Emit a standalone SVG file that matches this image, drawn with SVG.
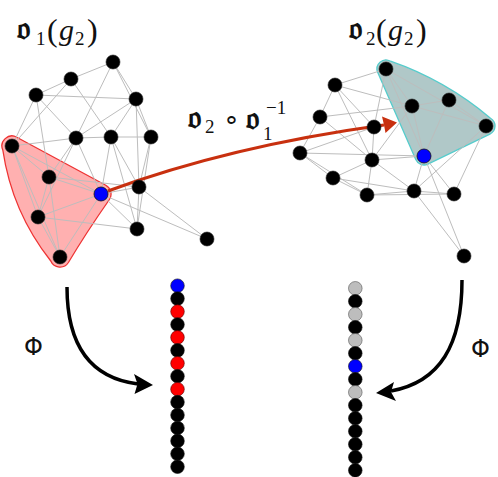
<svg xmlns="http://www.w3.org/2000/svg" width="498" height="477" viewBox="0 0 498 477">
<style>
.e{stroke:#bdbdbd;stroke-width:1;fill:none}
.n{fill:#000;stroke:#222;stroke-width:0.6}
.b{fill:#0000ff;stroke:#111;stroke-width:0.8}
.vk{fill:#000;stroke:#111;stroke-width:0.6}
.vr{fill:#ff0000;stroke:#550000;stroke-width:0.6}
.vg{fill:#bdbdbd;stroke:#555;stroke-width:0.6}
.vb{fill:#0000ff;stroke:#111;stroke-width:0.6}
.fr{font-family:"DejaVu Serif","Liberation Serif",serif;font-size:32px;font-weight:bold;fill:#111}
.m{font-family:"Liberation Serif",serif;fill:#111}
.s{font-family:"Liberation Serif",serif;font-size:19px;fill:#111}
.p{font-family:"Liberation Serif",serif;font-size:32px;fill:#111}
.g{font-family:"Liberation Serif",serif;font-size:30px;font-style:italic;fill:#111}
.phi{font-family:"DejaVu Sans","Liberation Sans",sans-serif;font-size:24px;fill:#111}
</style>
<rect width="498" height="477" fill="#fff"/>
<g id="hull-left"><path d="M16.75,137.2 L105.75,185.2 A10,10 0 0 1 109.4,199.5 Q86,233 68.4,262.5 A10,10 0 0 1 50.8,261.0 Q12,212 2.8,150.0 A10,10 0 0 1 16.75,137.2 Z" fill="#ff7070" fill-opacity="0.55" stroke="#ee3333" stroke-width="1.3"/></g>
<g id="hull-right"><path d="M390.5,61.2 Q445,80 490.5,118.2 A9,9 0 0 1 489.9,134.1 L427.9,164.1 A9,9 0 0 1 415.75,159.6 L377.75,72.6 A9,9 0 0 1 390.5,61.2 Z" fill="#8fb0b0" fill-opacity="0.7" stroke="#55cccc" stroke-width="1.3"/></g>
<g id="connectors">
<g id="edges-left">
<path class="e" d="M113,62L71,79M113,62L136,99M113,62L151,137M113,62L76,138M71,79L36,95M71,79L111,137M71,79L12,146M36,95L136,99M36,95L76,138M36,95L12,146M36,95L49,177M136,99L76,138M136,99L111,137M136,99L151,137M136,99L139,187M76,138L111,137M76,138L12,146M76,138L49,177M76,138L101,194M76,138L38,217M111,137L151,137M111,137L101,194M111,137L139,187M111,137L137,229M151,137L139,187M151,137L137,229M12,146L49,177M12,146L101,194M12,146L38,217M12,146L60,257M49,177L101,194M49,177L139,187M49,177L38,217M49,177L60,257M101,194L38,217M101,194L139,187M101,194L137,229M101,194L207,239M139,187L137,229M139,187L207,239M38,217L60,257M38,217L137,229M101,194L60,257"/>
</g>
<g id="edges-right">
<path class="e" d="M386,69L335,85M386,69L412,106M386,69L486,126M386,69L424,156M386,69L374,127M335,85L320,117M335,85L412,106M335,85L374,127M335,85L372,160M412,106L449,100M412,106L320,117M412,106L424,156M412,106L372,160M449,100L486,126M449,100L424,156M412,106L486,126M320,117L300,153M320,117L372,160M374,127L372,160M374,127L300,153M300,153L333,178M300,153L367,195M300,153L424,156M372,160L333,178M372,160L367,195M372,160L424,156M372,160L414,191M424,156L414,191M424,156L454,194M424,156L464,256M333,178L367,195M333,178L414,191M367,195L414,191M414,191L454,194M414,191L486,126M454,194L486,126M414,191L464,256M367,195L454,194"/>
</g>
<g id="map-arrow">
<path d="M108,191 Q230,146 384,125" fill="none" stroke="#c8300f" stroke-width="3.2"/>
<polygon points="397,122.5 382,116.5 384,125 385.5,133" fill="#c8300f"/>
</g>
<g id="phi-left">
<path d="M67,287 C67,345 90,378 138,384" fill="none" stroke="#000" stroke-width="3.5"/>
<polygon points="153,385 134,374 137.5,384 134.5,394" fill="#000"/>
</g>
<g id="phi-right">
<path d="M462,280 C462,345 440,382 391,391" fill="none" stroke="#000" stroke-width="3.5"/>
<polygon points="376,393 394,382 391,392 396,401" fill="#000"/>
</g>
</g>
<g id="nodes-left">
<circle class="n" cx="113" cy="62" r="7"/><circle class="n" cx="71" cy="79" r="7"/><circle class="n" cx="36" cy="95" r="7"/><circle class="n" cx="136" cy="99" r="7"/><circle class="n" cx="76" cy="138" r="7"/><circle class="n" cx="111" cy="137" r="7"/><circle class="n" cx="151" cy="137" r="7"/><circle class="n" cx="12" cy="146" r="7"/><circle class="n" cx="49" cy="177" r="7"/><circle class="n" cx="139" cy="187" r="7"/><circle class="n" cx="38" cy="217" r="7"/><circle class="n" cx="137" cy="229" r="7"/><circle class="n" cx="207" cy="239" r="7"/><circle class="n" cx="60" cy="257" r="7"/><circle class="b" cx="101" cy="194" r="7"/>
</g>
<g id="nodes-right">
<circle class="n" cx="386" cy="69" r="7"/><circle class="n" cx="335" cy="85" r="7"/><circle class="n" cx="412" cy="106" r="7"/><circle class="n" cx="449" cy="100" r="7"/><circle class="n" cx="320" cy="117" r="7"/><circle class="n" cx="374" cy="127" r="7"/><circle class="n" cx="486" cy="126" r="7"/><circle class="n" cx="300" cy="153" r="7"/><circle class="n" cx="372" cy="160" r="7"/><circle class="n" cx="333" cy="178" r="7"/><circle class="n" cx="367" cy="195" r="7"/><circle class="n" cx="414" cy="191" r="7"/><circle class="n" cx="454" cy="194" r="7"/><circle class="n" cx="464" cy="256" r="7"/><circle class="b" cx="424" cy="156" r="7"/>
</g>
<g id="vector-left">
<circle class="vb" cx="177.5" cy="285.7" r="6.8"/><circle class="vk" cx="177.5" cy="298.6" r="6.8"/><circle class="vr" cx="177.5" cy="311.6" r="6.8"/><circle class="vk" cx="177.5" cy="324.5" r="6.8"/><circle class="vr" cx="177.5" cy="337.4" r="6.8"/><circle class="vk" cx="177.5" cy="350.4" r="6.8"/><circle class="vr" cx="177.5" cy="363.3" r="6.8"/><circle class="vk" cx="177.5" cy="376.2" r="6.8"/><circle class="vr" cx="177.5" cy="389.2" r="6.8"/><circle class="vk" cx="177.5" cy="402.1" r="6.8"/><circle class="vk" cx="177.5" cy="415.0" r="6.8"/><circle class="vk" cx="177.5" cy="428.0" r="6.8"/><circle class="vk" cx="177.5" cy="440.9" r="6.8"/><circle class="vk" cx="177.5" cy="453.8" r="6.8"/><circle class="vk" cx="177.5" cy="466.7" r="6.8"/>
</g>
<g id="vector-right">
<circle class="vg" cx="355.3" cy="288.3" r="6.8"/><circle class="vk" cx="355.3" cy="301.3" r="6.8"/><circle class="vg" cx="355.3" cy="314.3" r="6.8"/><circle class="vk" cx="355.3" cy="327.3" r="6.8"/><circle class="vg" cx="355.3" cy="340.3" r="6.8"/><circle class="vk" cx="355.3" cy="353.3" r="6.8"/><circle class="vb" cx="355.3" cy="366.3" r="6.8"/><circle class="vk" cx="355.3" cy="379.3" r="6.8"/><circle class="vg" cx="355.3" cy="392.3" r="6.8"/><circle class="vk" cx="355.3" cy="405.3" r="6.8"/><circle class="vk" cx="355.3" cy="418.3" r="6.8"/><circle class="vk" cx="355.3" cy="431.3" r="6.8"/><circle class="vk" cx="355.3" cy="444.3" r="6.8"/><circle class="vk" cx="355.3" cy="457.3" r="6.8"/><circle class="vk" cx="355.3" cy="470.3" r="6.8"/>
</g>
<g id="labels">
<text class="fr" x="17" y="39">𝔬</text><text class="s" x="36" y="45">1</text><text class="p" x="47" y="41">(</text><text class="g" x="59" y="40">g</text><text class="s" x="75" y="45">2</text><text class="p" x="87" y="41">)</text>
<text class="fr" x="349" y="39">𝔬</text><text class="s" x="366" y="45">2</text><text class="p" x="376" y="41">(</text><text class="g" x="388" y="40">g</text><text class="s" x="404" y="45">2</text><text class="p" x="416" y="41">)</text>
<text class="fr" x="188" y="128">𝔬</text><text class="s" x="205" y="133">2</text><text class="m" font-size="27" x="223" y="129">∘</text>
<text class="fr" x="246" y="129">𝔬</text><text class="s" x="263" y="140">1</text><text class="s" x="266" y="114">−1</text>
<text class="phi" x="24" y="355">Φ</text>
<text class="phi" x="471" y="357">Φ</text>
</g>
</svg>
